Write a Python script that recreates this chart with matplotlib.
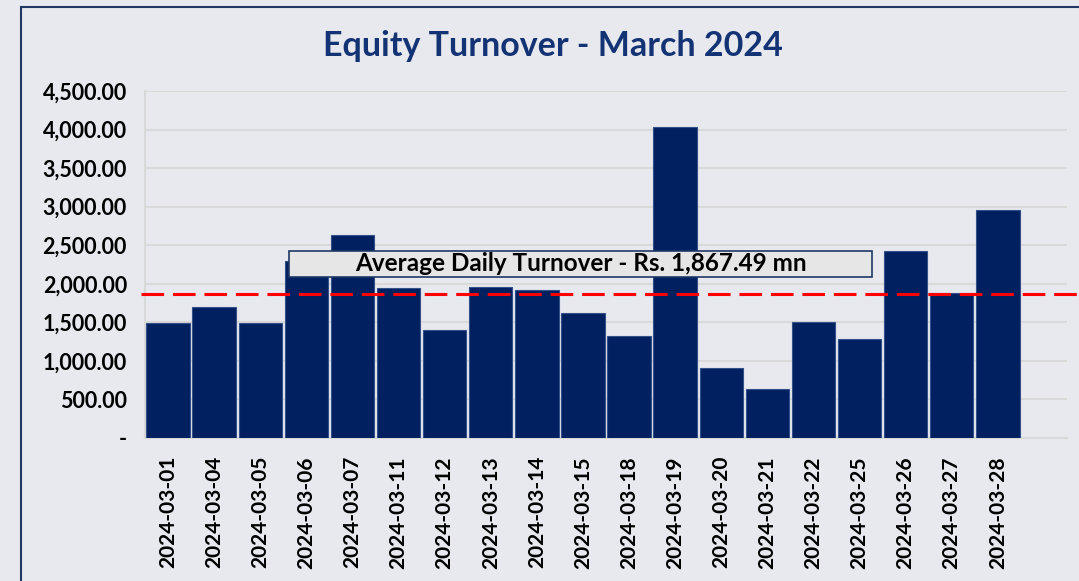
import matplotlib.pyplot as plt
from matplotlib.patches import Rectangle
from matplotlib.ticker import FuncFormatter

# daily equity turnover, Rs. mn
dates = ['2024-03-01', '2024-03-04', '2024-03-05', '2024-03-06', '2024-03-07',
         '2024-03-11', '2024-03-12', '2024-03-13', '2024-03-14', '2024-03-15',
         '2024-03-18', '2024-03-19', '2024-03-20', '2024-03-21', '2024-03-22',
         '2024-03-25', '2024-03-26', '2024-03-27', '2024-03-28']
turnover = [1490, 1705, 1490, 2290, 2635, 1940, 1400, 1962, 1920, 1620,
            1323, 4030, 908, 636, 1505, 1285, 2428, 1880, 2958]
avg_turnover = 1867.49
y_ticks = [0, 500, 1000, 1500, 2000, 2500, 3000, 3500, 4000, 4500]

bg = '#E7E9EE'
navy = '#002060'
font = ['Lato', 'DejaVu Sans']
plt.rcParams['font.family'] = font

fig = plt.figure(figsize=(10.79, 5.81), dpi=100, facecolor=bg)
ax = fig.add_axes([145 / 1079, 1 - 438 / 581, 922 / 1079, 347 / 581])
ax.set_facecolor(bg)

# outer chart frame
fig.patches.append(Rectangle((21 / 1079, -0.1), 1.2, 1.1 - 7 / 581,
                             transform=fig.transFigure, fill=False,
                             edgecolor='#1F3864', linewidth=1.5))

x = range(len(dates))
ax.bar(x, turnover, width=0.94, color=navy, edgecolor='#34508A', linewidth=0.8, zorder=3)

ax.set_xlim(-0.5, len(dates) + 0.5)
ax.set_ylim(0, 4500)
ax.set_yticks(y_ticks)
ax.yaxis.set_major_formatter(FuncFormatter(lambda v, p: '-' if v == 0 else f'{v:,.2f}'))
ax.set_xticks(list(x))
ax.set_xticklabels(dates, rotation=90)
ax.tick_params(axis='y', length=0, labelsize=15.5, pad=13)
ax.tick_params(axis='x', length=0, labelsize=15, pad=13)
for lbl in ax.get_xticklabels() + ax.get_yticklabels():
    lbl.set_fontweight('bold')

ax.grid(axis='y', color='#D9D9D9', linewidth=1.5, zorder=0)
for s in ['top', 'right']:
    ax.spines[s].set_visible(False)
ax.spines['left'].set_color('#D9D9D9')
ax.spines['left'].set_linewidth(1.5)
ax.spines['bottom'].set_color('#D9D9D9')
ax.spines['bottom'].set_linewidth(1.5)

# average line, runs past the plot area to the right
ax.plot([-0.58, len(dates) + 1.3], [avg_turnover, avg_turnover], color='red',
        linewidth=2.2, linestyle=(0, (7.4, 2.9)), clip_on=False, zorder=4)

# average label box
ax.add_patch(Rectangle((0.156, 0.464), 0.633, 0.075, transform=ax.transAxes,
                       facecolor='#E6E6E6', edgecolor='#1F3864', linewidth=1.2, zorder=5))
ax.text(0.4725, 0.5015, f'Average Daily Turnover - Rs. {avg_turnover:,.2f} mn',
        transform=ax.transAxes, ha='center', va='center', fontsize=17.5,
        fontweight='bold', color='black', zorder=6)

fig.text(553 / 1079, 1 - 46 / 581, 'Equity Turnover - March 2024', ha='center', va='center',
         fontsize=24.5, fontweight='bold', color='#133374')

fig.savefig('out.png', dpi=100, facecolor=bg)
